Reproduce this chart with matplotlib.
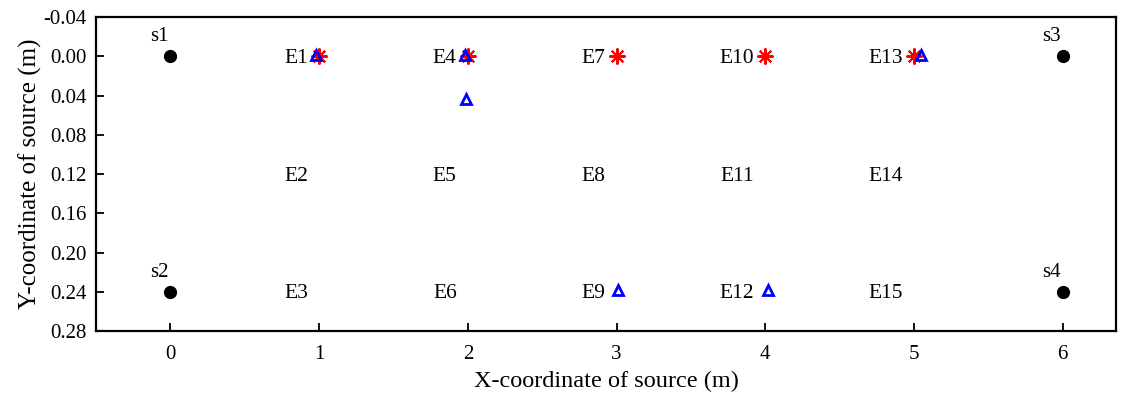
import matplotlib.pyplot as plt

plt.rcParams['font.family'] = ['Liberation Serif', 'DejaVu Serif']

# sensor sources
src_names = ['s1', 's2', 's3', 's4']
src_x = [0, 0, 6, 6]
src_y = [0.00, 0.24, 0.00, 0.24]

# event grid (E1..E15), three per column
evt_names = ['E%d' % (i + 1) for i in range(15)]
evt_x = [1, 1, 1, 2, 2, 2, 3, 3, 3, 4, 4, 4, 5, 5, 5]
evt_y = [0.00, 0.12, 0.24] * 5

# actual event locations
act_x = [1.00, 2.00, 3.00, 4.00, 5.00]
act_y = [0.000, 0.000, 0.000, 0.000, 0.000]

# located events
loc_x = [0.98, 1.98, 1.99, 3.01, 4.02, 5.05]
loc_y = [-0.001, -0.001, 0.043, 0.238, 0.238, -0.001]

ytick_vals = [-0.04, 0.00, 0.04, 0.08, 0.12, 0.16, 0.20, 0.24, 0.28]

fig = plt.figure(figsize=(11.31, 3.97), dpi=100)
ax = fig.add_axes([0.085, 0.166, 0.902, 0.791])

ax.plot(src_x, src_y, 'o', color='black', markersize=8.5, linestyle='none')
ax.plot(act_x, act_y, marker=(8, 2, 0), color='red', markersize=11.5,
        markeredgewidth=1.5, linestyle='none')
ax.plot(loc_x, loc_y, '^', markerfacecolor='none', markeredgecolor='blue',
        markersize=7, markeredgewidth=2, linestyle='none')

for name, x, y in zip(src_names, src_x, src_y):
    ax.annotate(name, (x, y), xytext=(-8, 14), textcoords='offset points',
                ha='center', va='center', fontsize=15)

for name, x, y in zip(evt_names, evt_x, evt_y):
    ax.annotate(name, (x, y), xytext=(-8, -1.5), textcoords='offset points',
                ha='right', va='center', fontsize=15.5)

ax.set_xlim(-0.5, 6.36)
ax.set_ylim(0.28, -0.04)
ax.set_xticks(range(0, 7))
ax.set_yticks(ytick_vals)
ax.set_yticklabels(['%.2f' % v for v in ytick_vals])
ax.tick_params(direction='in', length=6, width=1.3, labelsize=15)
ax.tick_params(axis='x', pad=10)
ax.tick_params(axis='y', pad=7)
for sp in ax.spines.values():
    sp.set_linewidth(1.6)

ax.set_xlabel('X-coordinate of source (m)', fontsize=17.5, labelpad=5)
ax.set_ylabel('Y-coordinate of source (m)', fontsize=18)
ax.yaxis.set_label_coords(-0.053, 0.5)

fig.savefig('out.png', dpi=100)
